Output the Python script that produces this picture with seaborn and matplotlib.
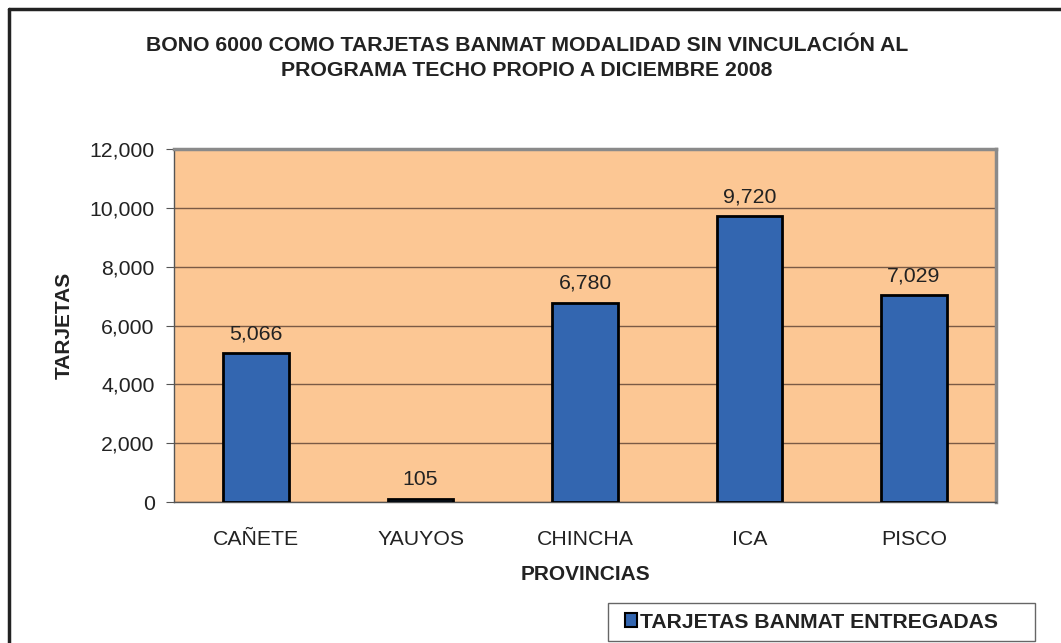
import matplotlib
matplotlib.use("Agg")
import matplotlib.pyplot as plt
import matplotlib.patches as mpatches
import seaborn as sns
import pandas as pd

provincias = ["CAÑETE", "YAUYOS", "CHINCHA", "ICA", "PISCO"]
tarjetas = [5066, 105, 6780, 9720, 7029]
y_ticks = [0, 2000, 4000, 6000, 8000, 10000, 12000]

titulo = "BONO 6000 COMO TARJETAS BANMAT MODALIDAD SIN VINCULACIÓN AL\nPROGRAMA TECHO PROPIO A DICIEMBRE 2008"
serie = "TARJETAS BANMAT ENTREGADAS"

df = pd.DataFrame({"provincia": provincias, "tarjetas": tarjetas})

sns.set_style("white")
plt.rcParams["font.family"] = ["Liberation Sans", "DejaVu Sans"]

W, H = 1061, 643
fig = plt.figure(figsize=(W / 100, H / 100), dpi=100)
ax = fig.add_axes([174 / W, 1 - 502 / H, (996 - 174) / W, (502 - 149) / H])

bar_color = "#3366b0"
txt = "#222222"
ax.set_facecolor("#fcc794")
sns.barplot(data=df, x="provincia", y="tarjetas", color=bar_color, width=0.4,
            edgecolor="black", linewidth=2, saturation=1, ax=ax, zorder=3)

for i, v in enumerate(tarjetas):
    ax.text(i, v + 330, f"{v:,}", ha="center", va="bottom", fontsize=15.3, color=txt)

ax.set_ylim(0, 12000)
ax.set_xlim(-0.5, len(provincias) - 0.5)
ax.set_yticks(y_ticks)
ax.set_yticklabels([f"{t:,}" for t in y_ticks], fontsize=15.3, color=txt)
ax.yaxis.grid(True, color="#7a5a45", linewidth=1, zorder=0)
ax.set_axisbelow(True)

ax.set_xticks(range(len(provincias)))
ax.set_xticklabels(provincias, fontsize=15.3, color=txt)
ax.tick_params(axis="x", length=0, pad=20)
ax.set_xticks([i - 0.5 for i in range(len(provincias) + 1)], minor=True)
ax.tick_params(axis="x", which="minor", length=6, color="#555555", direction="out")
ax.tick_params(axis="y", length=6, color="#555555", direction="out", pad=8, left=True)

for side in ["left", "bottom"]:
    ax.spines[side].set_color("#555555")
    ax.spines[side].set_linewidth(1)
for side in ["top", "right"]:
    ax.spines[side].set_color("#8a8a8a")
    ax.spines[side].set_linewidth(2.5)

ax.set_xlabel("PROVINCIAS", fontsize=15, fontweight="bold", labelpad=12, color=txt)
ax.set_ylabel("TARJETAS", fontsize=15, fontweight="bold", labelpad=11, color=txt)

fig.text(527 / W, 1 - 58 / H, titulo, ha="center", va="center", fontsize=15.3,
         fontweight="bold", color=txt, linespacing=1.35)

# outer chart frame (left and top edges visible)
fig.add_artist(plt.Line2D([9 / W, 9 / W], [0, 1 - 9 / H], color=txt, linewidth=2.5,
                          transform=fig.transFigure))
fig.add_artist(plt.Line2D([9 / W, 1], [1 - 9 / H, 1 - 9 / H], color=txt, linewidth=2.5,
                          transform=fig.transFigure))

# legend box
fig.add_artist(mpatches.Rectangle((608 / W, 1 - 641 / H), (1035 - 608) / W, 38 / H,
                                  facecolor="white", edgecolor="#666666", linewidth=1,
                                  transform=fig.transFigure))
handle = mpatches.Patch(facecolor=bar_color, edgecolor="black", linewidth=1.5, label=serie)
fig.legend(handles=[handle], loc="center left", bbox_to_anchor=(614 / W, 1 - 622 / H),
           frameon=False, handlelength=0.6, handleheight=0.6, handletextpad=0.15,
           borderpad=0, prop={"weight": "bold", "size": 15.2}, labelcolor=txt)

fig.savefig("out.png", dpi=100)
